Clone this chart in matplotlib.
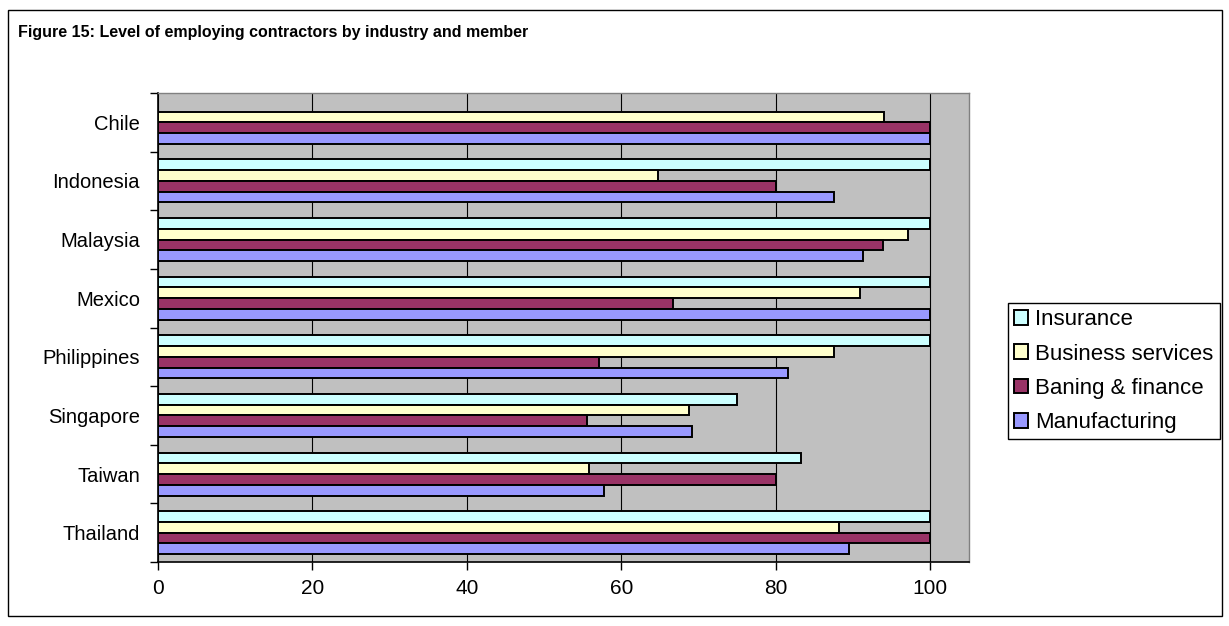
import numpy as np
import matplotlib
matplotlib.use("Agg")
import matplotlib.pyplot as plt
from matplotlib.patches import Rectangle

plt.rcParams['font.family'] = ['Liberation Sans', 'DejaVu Sans']

members = ["Chile", "Indonesia", "Malaysia", "Mexico", "Philippines",
           "Singapore", "Taiwan", "Thailand"]
insurance = [np.nan, 100, 100, 100, 100, 75.0, 83.3, 100]
business_services = [94.0, 64.7, 97.1, 90.9, 87.5, 68.8, 55.8, 88.2]
banking_finance = [100, 80.0, 93.9, 66.7, 57.1, 55.6, 80.0, 100]
manufacturing = [100, 87.5, 91.3, 100, 81.6, 69.2, 57.8, 89.5]

series_names = ["Insurance", "Business services", "Baning & finance", "Manufacturing"]
series_values = [insurance, business_services, banking_finance, manufacturing]
series_colors = ["#CCFFFF", "#FFFFCC", "#993366", "#9999FF"]
x_ticks = [0, 20, 40, 60, 80, 100]

W, H = 1229, 626
fig = plt.figure(figsize=(W / 100, H / 100), dpi=100)
fig.patch.set_facecolor("white")

# outer frame around the whole chart
fig.patches.append(Rectangle((8 / W, 1 - 616 / H), (1222 - 8) / W, (616 - 10) / H,
                             transform=fig.transFigure, fill=False,
                             edgecolor="black", linewidth=1.0))

fig.text(18 / W, 1 - 32 / H, "Figure 15: Level of employing contractors by industry and member",
         fontsize=11.5, fontweight="bold", ha="left", va="center")

left, right, top, bottom = 158, 969, 93, 562
ax = fig.add_axes([left / W, 1 - bottom / H, (right - left) / W, (bottom - top) / H])
ax.set_facecolor("#C0C0C0")

y = np.arange(len(members))
h = 0.183
for j, (name, vals, col) in enumerate(zip(series_names, series_values, series_colors)):
    ax.barh(y + (j - 1.5) * h, vals, height=h, color=col, edgecolor="black",
            linewidth=1.4, label=name, zorder=3)

ax.set_xlim(0, 105)
ax.set_ylim(len(members) - 0.5, -0.5)

ax.set_xticks(x_ticks)
ax.set_xticklabels([str(t) for t in x_ticks])
ax.xaxis.grid(True, color="black", linewidth=0.8, zorder=1)
ax.set_axisbelow(True)

ax.set_yticks(np.arange(-0.5, len(members), 1.0))
ax.set_yticklabels([])
ax.set_yticks(y, minor=True)
ax.set_yticklabels(members, minor=True)
ax.tick_params(axis="y", which="major", length=6, width=1, direction="out")
ax.tick_params(axis="y", which="minor", length=0, pad=13, labelsize=14.5)
ax.tick_params(axis="x", length=6, width=1, direction="out", pad=6, labelsize=15)

for s in ("left", "bottom"):
    ax.spines[s].set_color("black")
    ax.spines[s].set_linewidth(1.2)
for s in ("top", "right"):
    ax.spines[s].set_color("#808080")
    ax.spines[s].set_linewidth(1.0)

leg = ax.legend(loc="upper left", bbox_to_anchor=(1008 / W, 1 - 303 / H),
                bbox_transform=fig.transFigure, fontsize=16, frameon=True,
                fancybox=False, edgecolor="black", framealpha=1,
                handlelength=0.63, handleheight=0.63, handletextpad=0.32,
                labelspacing=0.6, borderpad=0.28, borderaxespad=0)
leg.get_frame().set_linewidth(1.0)

fig.savefig("out.png", dpi=100)
